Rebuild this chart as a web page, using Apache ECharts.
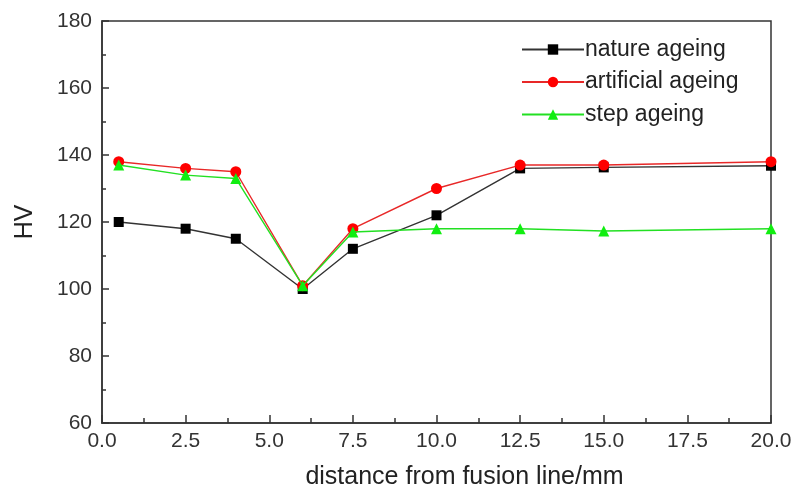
<!DOCTYPE html>
<html>
<head>
<meta charset="utf-8">
<script src="https://cdn.jsdelivr.net/npm/echarts@6/dist/echarts.min.js"></script>
<style>html,body{margin:0;padding:0;background:#fff}#c{width:794px;height:488px}</style>
</head>
<body>
<div id="c"></div>
<script>
const distance = [0.5, 2.5, 4, 6, 7.5, 10, 12.5, 15, 20];
const natureAgeing = [120, 118, 115, 100, 112, 122, 136, 136.3, 136.8];
const artificialAgeing = [138, 136, 135, 101, 118, 130, 137, 137, 138];
const stepAgeing = [137, 134, 133, 101, 117, 118, 118, 117.3, 118];
const seriesNames = ['nature ageing', 'artificial ageing', 'step ageing'];
const xTitle = 'distance from fusion line/mm';
const yTitle = 'HV';

const font = 'Liberation Sans, Arial, sans-serif';
const pair = (ys) => distance.map((x, i) => [x, ys[i]]);

const chart = echarts.init(document.getElementById('c'), null, {renderer: 'canvas'});
const axisCol = '#333';
chart.setOption({
  animation: false,
  backgroundColor: '#fff',
  grid: {left: 102, right: 23, top: 21, bottom: 65, show: true, borderColor: axisCol, borderWidth: 1.5,
         backgroundColor: 'transparent', outerBoundsMode: 'none', containLabel: false},
  legend: {
    left: 516, top: 33, orient: 'vertical', itemGap: 9.5,
    itemWidth: 62, itemHeight: 13,
    textStyle: {fontFamily: font, fontSize: 23, color: '#222', padding: [0,0,0,-4]},
    data: seriesNames
  },
  xAxis: {
    type: 'value', min: 0, max: 20, interval: 2.5,
    name: xTitle, nameLocation: 'middle', nameGap: 42,
    nameTextStyle: {fontFamily: font, fontSize: 25, color: '#222', padding: [0, 0, 0, 56]},
    axisLine: {lineStyle: {color: axisCol, width: 1.5}},
    axisTick: {inside: true, length: 8, lineStyle: {color: axisCol, width: 1.5}},
    minorTick: {show: true, splitNumber: 2, length: 5, lineStyle: {color: axisCol, width: 1.5}},
    splitLine: {show: false},
    axisLabel: {fontFamily: font, fontSize: 21, color: '#333', margin: 8, formatter: v => v.toFixed(1)}
  },
  yAxis: {
    type: 'value', min: 60, max: 180, interval: 20,
    name: yTitle, nameLocation: 'middle', nameGap: 64,
    nameTextStyle: {fontFamily: font, fontSize: 25, color: '#222'},
    axisLine: {lineStyle: {color: axisCol, width: 1.5}},
    axisTick: {inside: true, length: 7, lineStyle: {color: axisCol, width: 1.5}},
    minorTick: {show: true, splitNumber: 2, length: 4, lineStyle: {color: axisCol, width: 1.5}},
    splitLine: {show: false},
    axisLabel: {fontFamily: font, fontSize: 21, color: '#333', margin: 10}
  },
  series: [
    {name: seriesNames[0], type: 'line', data: pair(natureAgeing), symbol: 'rect', symbolSize: 10,
     color: '#000', lineStyle: {color: '#333', width: 1.4}, itemStyle: {color: '#000'}, z: 3},
    {name: seriesNames[1], type: 'line', data: pair(artificialAgeing), symbol: 'circle', symbolSize: 11,
     color: '#ff0000', lineStyle: {color: '#e82828', width: 1.4}, itemStyle: {color: '#ff0000'}, z: 4},
    {name: seriesNames[2], type: 'line', data: pair(stepAgeing), symbol: 'triangle', symbolSize: 11,
     color: '#11ee11', lineStyle: {color: '#22e022', width: 1.4}, itemStyle: {color: '#11ee11'}, z: 5}
  ]
});
</script>
</body>
</html>
